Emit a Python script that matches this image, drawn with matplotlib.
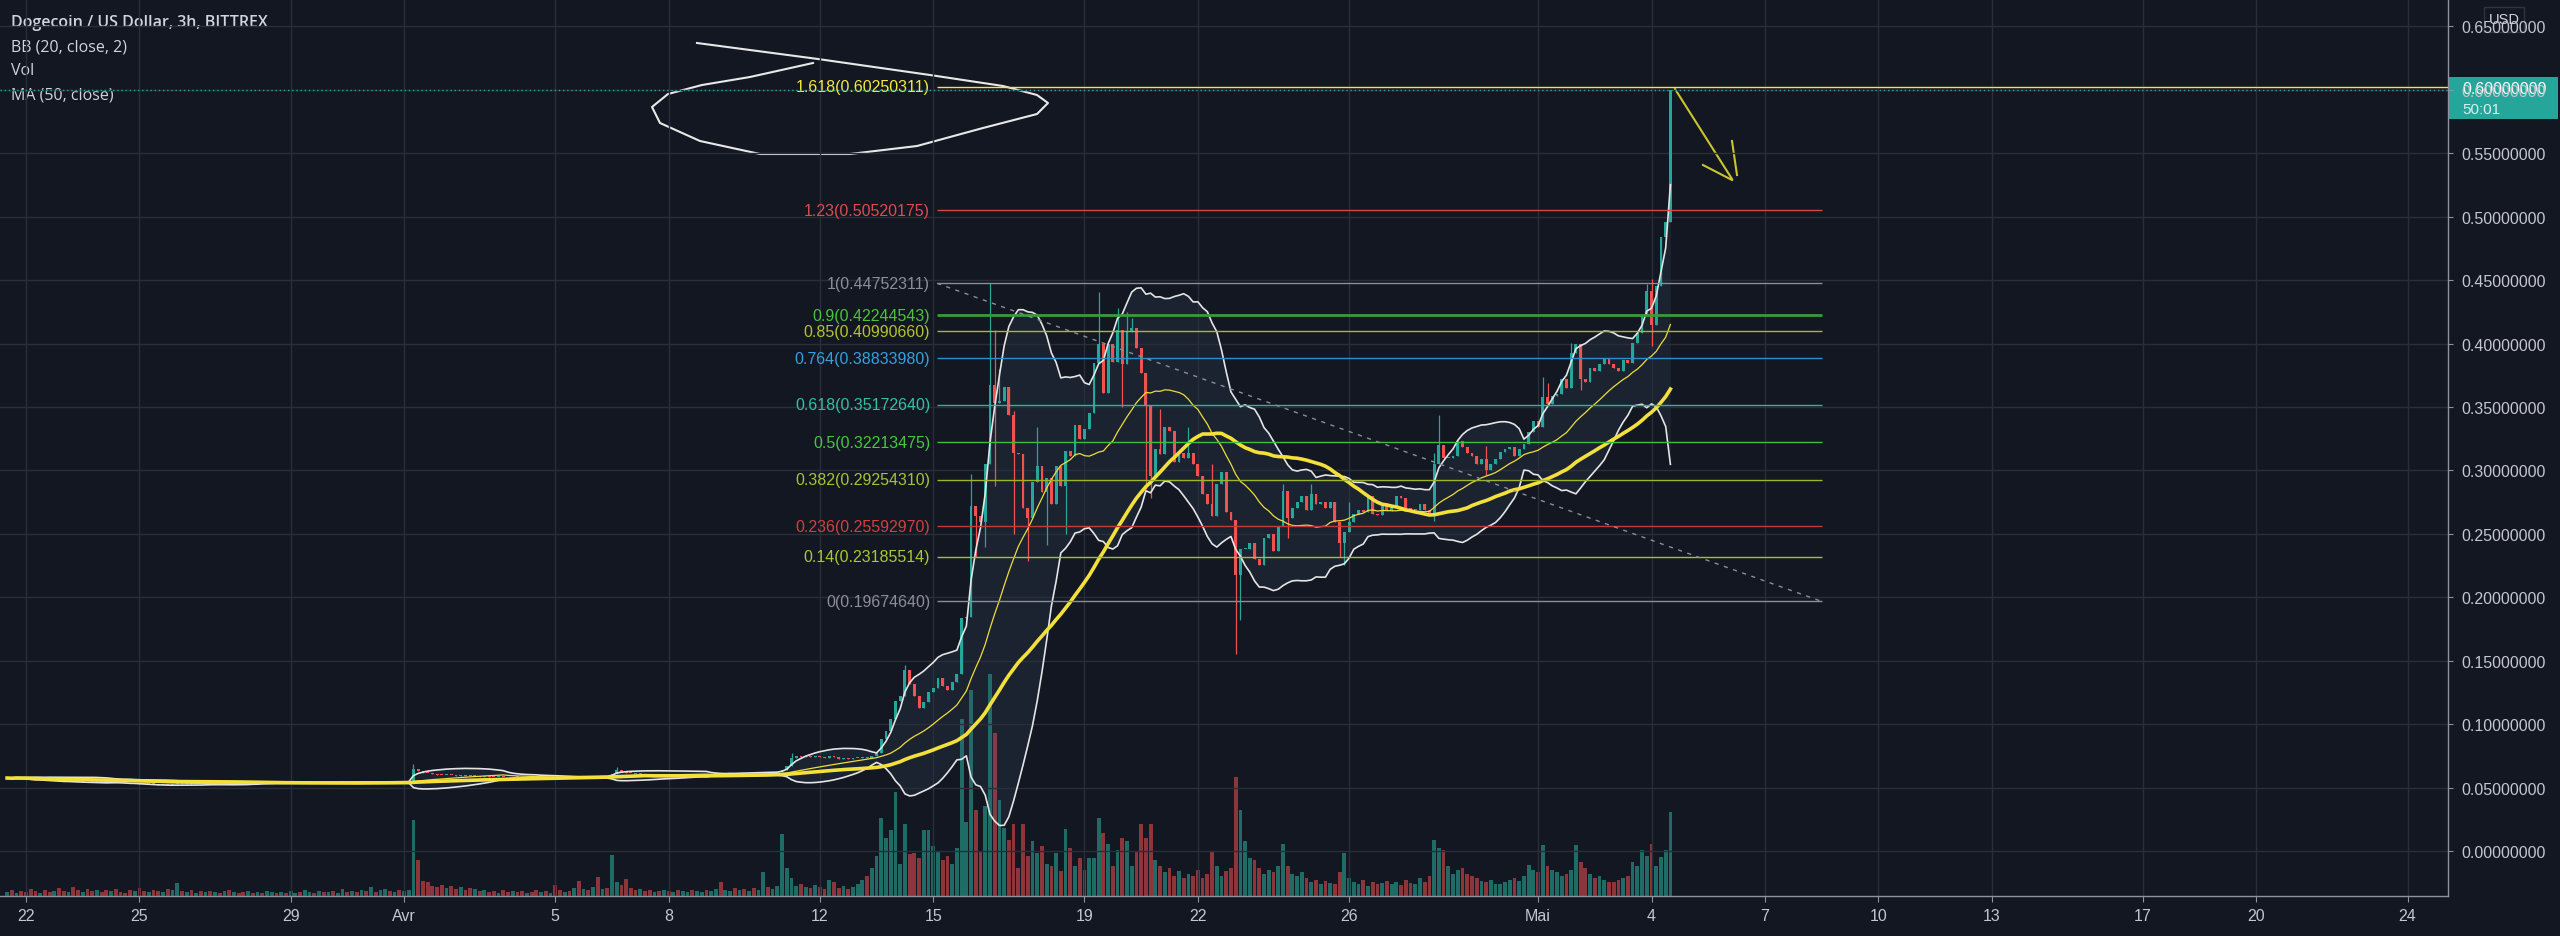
import matplotlib.pyplot as plt
import numpy as np
import pandas as pd
from matplotlib.patches import Rectangle

plt.rcParams['font.family'] = ['Liberation Sans', 'DejaVu Sans']

# DOGE/USD Bittrex 3h bars, x in days after Mar 22 00:00, first bar Mar 21 12:00
bar_start = -0.5
bar_step = 0.125

closes = [
    0.0575, 0.0572, 0.0578, 0.0574,
    0.0570, 0.0566, 0.0562, 0.0565, 0.0560, 0.0556, 0.0558, 0.0554,   # Mar 22
    0.0552, 0.0556, 0.0550, 0.0547, 0.0551, 0.0548, 0.0545, 0.0549,
    0.0546, 0.0543, 0.0548, 0.0544, 0.0540, 0.0536, 0.0532, 0.0535,
    0.0530, 0.0527, 0.0531, 0.0526, 0.0522, 0.0528, 0.0524, 0.0529,   # Mar 25
    0.0532, 0.0528, 0.0535, 0.0531, 0.0536, 0.0533, 0.0538, 0.0535,
    0.0537, 0.0534, 0.0539, 0.0536, 0.0540, 0.0537, 0.0535, 0.0538,
    0.0536, 0.0539, 0.0535, 0.0538, 0.0541, 0.0537, 0.0540, 0.0536,
    0.0538, 0.0541, 0.0537, 0.0540, 0.0543, 0.0539, 0.0542, 0.0538,   # Mar 29
    0.0540, 0.0537, 0.0541, 0.0544, 0.0540, 0.0543, 0.0539, 0.0542,
    0.0540, 0.0543, 0.0539, 0.0541, 0.0545, 0.0542, 0.0544, 0.0541,
    0.0543, 0.0546, 0.0650, 0.0632, 0.0618, 0.0612, 0.0605, 0.0600,   # Apr 1
    0.0598, 0.0602, 0.0596, 0.0593, 0.0597, 0.0592, 0.0588, 0.0591,
    0.0587, 0.0590, 0.0585, 0.0582, 0.0586, 0.0583, 0.0580, 0.0584,
    0.0581, 0.0578, 0.0582, 0.0579, 0.0576, 0.0580, 0.0577, 0.0581,
    0.0579, 0.0576, 0.0580, 0.0577, 0.0583, 0.0580, 0.0585, 0.0582,   # Apr 5
    0.0586, 0.0583, 0.0588, 0.0585, 0.0610, 0.0640, 0.0625, 0.0618,
    0.0612, 0.0606, 0.0610, 0.0603, 0.0600, 0.0604, 0.0598, 0.0601,
    0.0597, 0.0600, 0.0596, 0.0599, 0.0602, 0.0598, 0.0601, 0.0605,   # Apr 8
    0.0602, 0.0606, 0.0609, 0.0605, 0.0608, 0.0612, 0.0609, 0.0613,
    0.0610, 0.0614, 0.0611, 0.0615, 0.0618, 0.0614, 0.0617, 0.0620,
    0.0640, 0.0668, 0.0735, 0.0752, 0.0740, 0.0748, 0.0738, 0.0745,
    0.0740, 0.0732, 0.0745, 0.0738, 0.0728, 0.0733, 0.0725, 0.0730,   # Apr 12
    0.0730, 0.0738, 0.0732, 0.0745, 0.0773, 0.0882, 0.0944, 0.1038,
    0.1180, 0.1225, 0.1428, 0.1318, 0.1225, 0.1131, 0.1178, 0.1256,
    0.1287, 0.1365, 0.1303, 0.1272, 0.1334, 0.1396, 0.1833, 0.1848,   # Apr 15
    0.2721, 0.2643, 0.2596, 0.3048, 0.3671, 0.3531, 0.3546, 0.3655,
    0.3437, 0.3141, 0.3126, 0.2705, 0.2627, 0.2908, 0.3032, 0.2830,
    0.2939, 0.2736, 0.3032, 0.2876, 0.3157, 0.3110, 0.3359, 0.3250,
    0.3328, 0.3453, 0.3850, 0.3998, 0.3609, 0.3998, 0.3858, 0.4107,   # Apr 19
    0.3842, 0.4092, 0.4123, 0.3967, 0.3765, 0.3515, 0.2954, 0.3172,
    0.3126, 0.3344, 0.3313, 0.3063, 0.3141, 0.3095, 0.3141, 0.3048,
    0.2954, 0.2814, 0.2736, 0.2643, 0.2892, 0.2985, 0.2674, 0.2612,   # Apr 22
    0.2175, 0.2378, 0.2378, 0.2425, 0.2300, 0.2253, 0.2471, 0.2502,
    0.2362, 0.2565, 0.2839, 0.2627, 0.2705, 0.2752, 0.2798, 0.2689,
    0.2814, 0.2736, 0.2752, 0.2705, 0.2752, 0.2596, 0.2425, 0.2518,
    0.2596, 0.2658, 0.2689, 0.2674, 0.2798, 0.2658, 0.2652, 0.2721,   # Apr 26
    0.2683, 0.2721, 0.2798, 0.2783, 0.2705, 0.2689, 0.2689, 0.2736,
    0.2689, 0.2658, 0.3048, 0.3204, 0.3095, 0.3095, 0.3110, 0.3235,
    0.3188, 0.3141, 0.3110, 0.3048, 0.3087, 0.3006, 0.3047, 0.3087,
    0.3148, 0.3169, 0.3181, 0.3116, 0.3169, 0.3210, 0.3303, 0.3393,
    0.3344, 0.3576, 0.3523, 0.3588, 0.3605, 0.3719, 0.3646, 0.3922,   # May 1
    0.3996, 0.3719, 0.3698, 0.3808, 0.3780, 0.3841, 0.3882, 0.3841,
    0.3808, 0.3780, 0.3874, 0.3849, 0.4004, 0.4085, 0.4228, 0.4411,
    0.4146, 0.4452, 0.4839, 0.4961, 0.6000,                           # May 4
]

volumes = [
    4, 6, 3, 5,
    4, 7, 5, 3, 6, 4, 5, 8,
    5, 4, 9, 6, 4, 7, 5, 6,
    4, 6, 5, 7, 4, 3, 6, 5,
    8, 5, 4, 6, 5, 4, 7, 6,
    13, 5, 4, 6, 3, 5, 4, 5,
    4, 3, 5, 6, 4, 3, 4, 5,
    3, 4, 3, 5, 4, 3, 4, 3,
    5, 3, 4, 6, 4, 3, 5, 4,
    4, 5, 3, 7, 4, 5, 4, 6,
    5, 9, 4, 6, 7, 5, 4, 6,
    5, 6, 76, 36, 15, 14, 10, 9,
    11, 8, 10, 7, 9, 6, 8, 7,
    5, 6, 4, 5, 3, 6, 4, 5,
    4, 5, 3, 4, 6, 4, 5, 3,
    11, 6, 4, 5, 8, 15, 7, 6,
    9, 19, 7, 8, 41, 14, 11, 17,
    8, 6, 7, 5, 6, 4, 5, 6,
    5, 4, 6, 5, 4, 6, 5, 4,
    6, 5, 7, 14, 6, 5, 8, 6,
    7, 5, 8, 6, 24, 9, 7, 10,
    62, 28, 18, 10, 12, 9, 8, 11,
    9, 7, 16, 14, 8, 10, 7, 9,
    12, 16, 20, 28, 40, 78, 58, 66,
    104, 32, 72, 42, 43, 38, 66, 66,
    50, 44, 36, 40, 32, 48, 177, 74,
    206, 86, 44, 90, 222, 163, 96, 68,
    56, 72, 28, 72, 40, 55, 43, 50,
    32, 30, 43, 25, 67, 48, 30, 38,
    26, 38, 38, 78, 63, 52, 30, 46,
    58, 55, 30, 44, 72, 58, 72, 36,
    30, 24, 28, 20, 25, 18, 22, 20,
    26, 18, 22, 44, 30, 20, 25, 28,
    119, 86, 55, 38, 36, 28, 22, 26,
    24, 30, 52, 30, 22, 20, 24, 18,
    14, 16, 12, 15, 13, 12, 24, 43,
    18, 14, 12, 16, 10, 14, 12, 13,
    15, 12, 14, 11, 16, 13, 12, 18,
    14, 20, 56, 48, 46, 30, 22, 26,
    28, 22, 20, 18, 15, 14, 16, 12,
    12, 14, 16, 18, 15, 20, 31, 26,
    24, 51, 30, 26, 24, 20, 22, 26,
    51, 34, 28, 22, 18, 20, 16, 14,
    14, 16, 18, 20, 34, 30, 46, 40,
    52, 30, 39, 46, 84,
]

# visible wicks (bar day -> price)
wick_high = {10.25: 0.0685, 15.625: 0.0660, 20.25: 0.0775, 23.25: 0.1470, 25.0: 0.2970,
             25.5: 0.4481, 25.625: 0.4107, 25.75: 0.3800, 26.125: 0.3468, 26.75: 0.3344,
             28.375: 0.4403, 28.875: 0.4279, 29.125: 0.4248, 29.25: 0.4201, 29.75: 0.3500,
             30.0: 0.3484, 30.75: 0.3344, 31.375: 0.3048, 33.25: 0.2892, 34.0: 0.2892,
             35.0: 0.2752, 37.25: 0.3141, 37.375: 0.3437, 38.625: 0.3189, 40.125: 0.3739,
             40.25: 0.3686, 40.875: 0.4004, 42.875: 0.4472, 43.0: 0.4513}
wick_low = {25.125: 0.2316, 25.375: 0.2400, 25.625: 0.2876, 26.125: 0.2502, 26.5: 0.2284,
            27.0: 0.2409, 27.5: 0.2502, 29.0: 0.3500, 29.625: 0.2850, 29.75: 0.2783,
            32.0: 0.1552, 32.125: 0.1817, 33.375: 0.2471, 34.75: 0.2316, 34.875: 0.2253,
            37.25: 0.2600, 38.625: 0.2965, 41.125: 0.3637, 43.0: 0.3983}

date_days = [0, 3, 7, 10, 14, 17, 21, 24, 28, 31, 35, 40, 43, 46, 49, 52, 56, 59, 63]
date_labels = ["22", "25", "29", "Avr", "5", "8", "12", "15", "19", "22", "26", "Mai",
               "4", "7", "10", "13", "17", "20", "24"]

fib_ratios = ["1.618", "1.23", "1", "0.9", "0.85", "0.764", "0.618", "0.5", "0.382", "0.236", "0.14", "0"]
fib_prices = [0.60250311, 0.50520175, 0.44752311, 0.42244543, 0.40990660, 0.38833980,
              0.35172640, 0.32213475, 0.29254310, 0.25592970, 0.23185514, 0.19674640]
fib_colors = ["#f2e63a", "#d64848", "#8b8e96", "#3a9a3a", "#a8b82c", "#2f8ec9",
              "#2fb59b", "#3fbf3a", "#9db52a", "#c43a3a", "#a3c22a", "#8b8e96"]
fib_text = ["#f5ea3c", "#d94d4d", "#8b8e96", "#4cc23c", "#b3c22e", "#35a0dc",
            "#34c0a6", "#45c83c", "#a9c233", "#d04040", "#aac82e", "#8b8e96"]
fib_start, fib_end = 24.1, 47.5

bg = "#131722"
up_col, dn_col = "#26a69a", "#ef5350"

c = np.array(closes)
t = bar_start + bar_step * np.arange(len(c))
o = np.r_[c[0], c[:-1]]
hi = np.maximum(o, c)
lo = np.minimum(o, c)
for d, v in wick_high.items():
    i = int(round((d - bar_start) / bar_step))
    hi[i] = max(hi[i], v)
for d, v in wick_low.items():
    i = int(round((d - bar_start) / bar_step))
    lo[i] = min(lo[i], v)
green = c >= o
cols = np.where(green, up_col, dn_col)

s = pd.Series(c)
ma50 = s.rolling(50, min_periods=1).mean()
basis = s.rolling(20, min_periods=1).mean()
sd = s.rolling(20, min_periods=1).std(ddof=0)
bb_up = basis + 2 * sd
bb_dn = basis - 2 * sd

fig = plt.figure(figsize=(25.6, 9.37), dpi=100, facecolor=bg)
ax = fig.add_axes([0, 40 / 937, 2448 / 2560, 897 / 937])
vax = ax.twinx()
ax.set_zorder(2)
vax.set_zorder(1)
ax.patch.set_visible(False)

ax.set_xlim(-0.688, 64.07)
ax.set_ylim(-0.0355, 0.67166)

# volume
vax.bar(t, volumes, width=0.1, color=np.where(green, "#1f6b66", "#8c353b"), linewidth=0)
vax.set_ylim(0, 897)
vax.set_yticks([])
vax.tick_params(right=False)
for sp in vax.spines.values():
    sp.set_visible(False)

# grid + axes
ax.set_xticks(date_days)
ax.set_xticklabels(date_labels)
ax.set_yticks(np.arange(0, 0.651, 0.05))
ax.set_yticklabels([f"{v:.8f}" for v in np.arange(0, 0.651, 0.05)])
ax.yaxis.tick_right()
ax.grid(True, color="#2a2e39", lw=1, zorder=0)
ax.tick_params(axis="y", colors="#8f929a", labelcolor="#c3c6ce", labelsize=11.5, length=3.6, pad=6)
ax.tick_params(axis="x", colors="#8f929a", labelcolor="#c3c6ce", labelsize=11.5, length=4, pad=5)
for side in ["top", "left"]:
    ax.spines[side].set_visible(False)
for side in ["bottom", "right"]:
    ax.spines[side].set_color("#8f929a")
    ax.spines[side].set_linewidth(1)

# bollinger + MA
ax.fill_between(t, bb_dn, bb_up, color="#4a6a8a", alpha=0.15, lw=0, zorder=1)
ax.plot(t, bb_up, color="#e4e4e4", lw=1.2, zorder=5)
ax.plot(t, bb_dn, color="#e4e4e4", lw=1.2, zorder=5)
ax.plot(t, basis, color="#eedc3a", lw=0.9, zorder=5)
ax.plot(t, ma50, color="#f3e03a", lw=2.6, zorder=6)

# candles
ax.vlines(t, lo, hi, colors=cols, lw=0.9, zorder=3)
ax.bar(t, np.maximum(np.abs(c - o), 0.0007), bottom=np.minimum(o, c), width=0.075,
       color=cols, linewidth=0, zorder=4)

# fib retracement
for r, p, lc, tc in zip(fib_ratios, fib_prices, fib_colors, fib_text):
    x1 = 64.07 if r == "1.618" else fib_end
    ax.hlines(p, fib_start, x1, colors=lc, lw=2.0 if r == "0.9" else 1.0, zorder=7)
    ax.text(23.92, p, f"{r}({p:.8f})", color=tc, ha="right", va="center", fontsize=11.5, zorder=7)
ax.plot([fib_start, fib_end], [fib_prices[2], fib_prices[-1]], color="#8b8e96", lw=1,
        ls=(0, (3, 4)), zorder=7)

# last price line
ax.axhline(0.6, color=up_col, lw=1, ls=(0, (1, 2)), zorder=7)

# overlay in pixel coords for drawings and labels
ov = fig.add_axes([0, 0, 1, 1])
ov.set_xlim(0, 2560)
ov.set_ylim(937, 0)
ov.axis("off")
ov.patch.set_visible(False)

loop_x = [813, 750, 702, 668, 652, 660, 700, 760, 850, 917, 983, 1037, 1048, 1037, 1003, 930, 818, 697]
loop_y = [64, 78, 86, 95, 108, 124, 142, 155, 155, 147, 129, 115, 104, 96, 87, 76, 60, 44]
ov.plot(loop_x, loop_y, color="#e8e8e8", lw=1.5)

arrow_col = "#c9c52c"
ov.plot([1675, 1732], [90, 180], color=arrow_col, lw=1.5)
ov.plot([1703, 1732], [166, 181], color=arrow_col, lw=1.5)
ov.plot([1732, 1737], [142, 176], color=arrow_col, lw=1.5)

ov.text(11, 23, "Dogecoin / US Dollar, 3h, BITTREX", color="#d1d4dc", fontsize=11.5,
        family="Open Sans", fontweight="semibold", va="center")
for k, s_ in enumerate(["BB (20, close, 2)", "Vol", "MA (50, close)"]):
    ov.text(11, 47 + 24 * k, s_, color="#d1d4dc", fontsize=11.5, family="Open Sans", va="center")

ov.add_patch(Rectangle((2448, 78), 110, 42, facecolor=up_col, edgecolor="none"))
ov.text(2462, 90, "0.60000000", color="white", fontsize=11.5, va="center")
ov.text(2462, 110, "50:01", color="#d8f0ec", fontsize=11, va="center")

ov.add_patch(Rectangle((2484, 8), 40, 25, facecolor=bg, edgecolor="#2f3443", lw=1))
ov.text(2504, 20.5, "USD", color="#d1d4dc", fontsize=10.5, ha="center", va="center")

plt.savefig("out.png", facecolor=bg)
